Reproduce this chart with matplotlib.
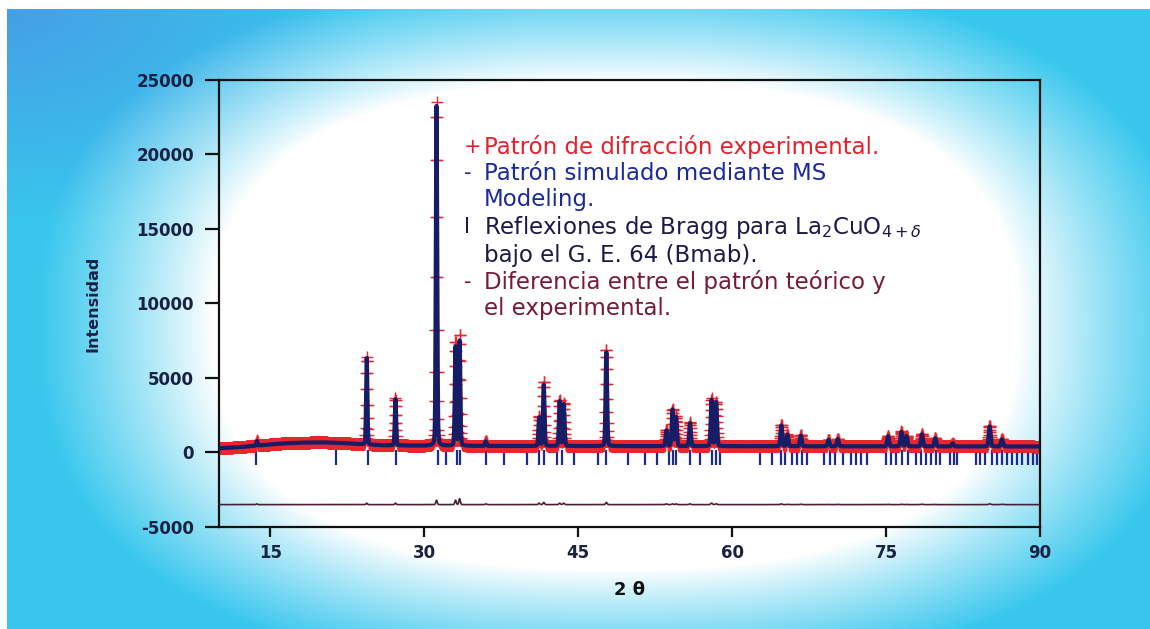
import numpy as np
import matplotlib
matplotlib.use("Agg")
import matplotlib.pyplot as plt

plt.rcParams["axes.unicode_minus"] = False

# reflections: 2theta, observed and calculated heights above background
peak_pos = [13.7, 24.4, 27.2, 31.2, 33.05, 33.45, 36.0, 41.2, 41.65, 43.2, 43.6, 47.75,
            53.6, 54.2, 54.55, 55.9, 58.0, 58.45, 64.8, 65.4, 66.7, 69.4, 70.3,
            75.2, 76.5, 77.0, 78.5, 79.8, 81.5, 85.1, 86.3]
obs_height = [350, 5900, 3200, 23100, 7000, 7500, 350, 2000, 4300, 3100, 2900, 6500,
              1100, 2500, 2000, 1600, 3200, 3000, 1450, 800, 750, 450, 500,
              700, 1000, 700, 850, 550, 200, 1400, 500]
calc_height = [300, 5800, 3100, 22800, 6700, 7100, 300, 1900, 4150, 3000, 2800, 6350,
               1050, 2450, 1950, 1550, 3100, 2950, 1400, 780, 720, 440, 480,
               680, 980, 680, 820, 540, 200, 1350, 480]

# background knots
bg_x = [10, 12, 14, 16, 18, 20, 22, 24, 26, 30, 40, 60, 90]
bg_y = [280, 360, 480, 600, 660, 680, 640, 540, 480, 450, 430, 420, 400]

# Bragg positions for La2CuO4+d, Bmab
bragg = [13.6, 21.4, 24.5, 27.3, 31.3, 32.1, 33.2, 33.5, 36.0, 37.8, 40.0, 41.2, 41.7,
         42.9, 43.4, 44.6, 46.9, 47.7, 49.9, 51.5, 52.7, 53.9, 54.2, 54.5, 55.9, 56.9,
         58.0, 58.4, 58.8, 62.7, 63.9, 64.8, 65.2, 65.8, 66.3, 66.8, 67.3, 69.0, 69.5,
         70.0, 70.8, 71.6, 72.1, 72.6, 73.1, 75.0, 75.5, 76.0, 76.6, 77.1, 77.9, 78.4,
         78.9, 79.4, 79.9, 80.3, 81.2, 81.6, 81.9, 83.8, 84.2, 84.6, 85.3, 85.8, 86.3,
         86.8, 87.3, 87.8, 88.3, 88.8, 89.3, 89.7]

diff_offset = -3500

x_ticks = [15, 30, 45, 60, 75, 90]
y_ticks = [-5000, 0, 5000, 10000, 15000, 20000, 25000]


def profile(tt, heights):
    # pseudo-Voigt peaks on top of the background
    y = np.interp(tt, bg_x, bg_y).astype(float)
    for p, h in zip(peak_pos, heights):
        w = 0.12 + 0.0012 * p
        g = np.exp(-4 * np.log(2) * ((tt - p) / w) ** 2)
        l = 1.0 / (1 + 4 * ((tt - p) / w) ** 2)
        y += h * (0.85 * g + 0.15 * l)
    return y


tt = np.arange(10, 90.001, 0.02)
y_obs = profile(tt, obs_height)
y_calc = profile(tt, calc_height)
y_diff = y_obs - y_calc + diff_offset

# backdrop: cyan border fading into a white centre
W, H = 1150, 629
yy, xx = np.mgrid[0:H, 0:W]
pw = 2.5
d = (np.abs((xx - 615) / 545.0) ** pw + np.abs((yy - 325) / 330.0) ** pw) ** (1 / pw)
mix = np.clip((d - 0.74) / 0.32, 0, 1) ** 0.9
cyan = np.array([0.22, 0.78, 0.93])
blue = np.array([0.27, 0.62, 0.90])
corner = np.clip(1 - np.sqrt((xx / 380.0) ** 2 + (yy / 230.0) ** 2), 0, 1)[..., None]
edge = cyan * (1 - corner) + blue * corner
img = (1 - mix[..., None]) * 1.0 + mix[..., None] * edge
img[:9, :] = 1.0
img[:, :7] = 1.0

fig = plt.figure(figsize=(11.5, 6.29), dpi=100)
bg = fig.add_axes([0, 0, 1, 1], zorder=0)
bg.imshow(img, aspect="auto", interpolation="bilinear")
bg.axis("off")

ax = fig.add_axes([0.1904, 0.1622, 0.7139, 0.7107], zorder=1)
ax.set_facecolor("none")

ax.vlines(bragg, -850, 150, color="#1c2c8c", lw=1.6, zorder=1.5)
ax.plot(tt, y_obs, linestyle="none", marker="+", ms=8, mew=1.0, color="#e8262c", zorder=2)
ax.plot(tt, y_calc, color="#161c66", lw=3.0, zorder=3)
ax.plot(tt, y_diff, color="#4a2036", lw=1.2, zorder=3)

ax.set_xlim(10, 90)
ax.set_ylim(-5000, 25000)
ax.set_xticks(x_ticks)
ax.set_yticks(y_ticks)
for s in ax.spines.values():
    s.set_linewidth(1.6)
    s.set_color("#111111")
ax.tick_params(axis="y", direction="out", length=10, width=1.6, pad=8, colors="#111111",
               labelcolor="#1a2244")
ax.tick_params(axis="x", direction="out", length=7, width=1.6, pad=5, colors="#111111",
               labelcolor="#1a2244")
for lab in ax.get_xticklabels() + ax.get_yticklabels():
    lab.set_fontweight("bold")
    lab.set_fontsize(12)
    lab.set_family("DejaVu Sans")

ax.set_xlabel("2 θ", fontsize=13, fontweight="bold", color="#111111", labelpad=14)
ax.set_ylabel("Intensidad", fontsize=11.5, fontweight="bold", color="#1a2244", labelpad=26)

# legend written as coloured text lines
red, blue_t, navy, maroon = "#e8202a", "#1a2a9a", "#1a1a48", "#7a1a34"
lines = [
    ("+", "Patrón de difracción experimental.", red, 20500),
    ("-", "Patrón simulado mediante MS", blue_t, 18750),
    ("", "Modeling.", blue_t, 17000),
    ("I", r"Reflexiones de Bragg para La$_2$CuO$_{4+\delta}$", navy, 15100),
    ("", "bajo el G. E. 64 (Bmab).", navy, 13240),
    ("-", "Diferencia entre el patrón teórico y", maroon, 11420),
    ("", "el experimental.", maroon, 9680),
]
for mark, txt, c, yv in lines:
    if mark:
        ax.text(33.9, yv, mark, color=c, fontsize=15, va="center", ha="left")
    ax.text(35.8, yv, txt, color=c, fontsize=16.5, va="center", ha="left")

fig.savefig("out.png", dpi=100)
